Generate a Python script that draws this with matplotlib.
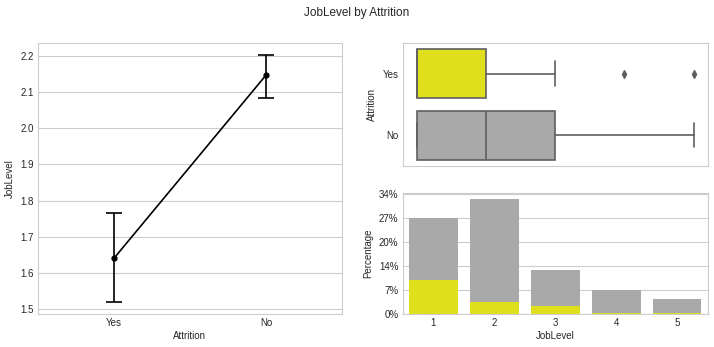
import numpy as np
import matplotlib.pyplot as plt
import seaborn as sns

sns.set_style('whitegrid')
plt.rcParams['font.family'] = ['Liberation Sans', 'DejaVu Sans']

# data (IBM HR attrition, JobLevel)
groups = ['Yes', 'No']
mean_level = [1.64, 2.147]
ci_low = [1.52, 2.083]
ci_high = [1.765, 2.202]

# box stats: whislo, q1, median, q3, whishi, outliers
box_yes = dict(whislo=1, q1=1, med=1, q3=2, whishi=3, fliers=[4, 5])
box_no = dict(whislo=1, q1=1, med=2, q3=3, whishi=5, fliers=[])

levels = ['1', '2', '3', '4', '5']
count_no = [400, 482, 186, 101, 64]
count_yes = [143, 52, 32, 5, 5]
total = 1470

yellow = '#dfdf1e'
gray = '#a9a9a9'
edge = '#5f5f5f'

fig = plt.figure(figsize=(7.14, 3.47), dpi=100)
fig.suptitle('JobLevel by Attrition', fontsize=8.5, y=0.98)

# left: mean with confidence interval
ax1 = fig.add_axes([0.053, 0.095, 0.426, 0.781])
x = np.arange(len(groups))
err = [np.array(mean_level) - np.array(ci_low), np.array(ci_high) - np.array(mean_level)]
ax1.errorbar(x, mean_level, yerr=err, color='black', lw=1.2, capsize=5.8, capthick=1.2,
             marker='o', markersize=3.5)
ax1.set_xlim(-0.5, 1.5)
ax1.set_ylim(1.486, 2.236)
ax1.set_xticks(x)
ax1.set_xticklabels(groups)
ax1.set_xlabel('Attrition', fontsize=7, labelpad=2)
ax1.set_ylabel('JobLevel', fontsize=7, labelpad=4)
ax1.tick_params(labelsize=7, pad=3, length=0)
ax1.grid(axis='x', visible=False)

# top right: boxplot
ax2 = fig.add_axes([0.564, 0.522, 0.427, 0.354])
stats = []
for b, lab in zip([box_yes, box_no], groups):
    s = dict(b)
    s['label'] = lab
    stats.append(s)
bp = ax2.bxp(stats, positions=[0, 1], vert=False, widths=0.8, patch_artist=True,
             boxprops=dict(edgecolor=edge, linewidth=1.2),
             medianprops=dict(color=edge, linewidth=1.2),
             whiskerprops=dict(color=edge, linewidth=1.2),
             capprops=dict(color=edge, linewidth=1.2),
             flierprops=dict(marker='d', markerfacecolor=edge, markeredgecolor=edge,
                             markersize=4))
for patch, c in zip(bp['boxes'], [yellow, gray]):
    patch.set_facecolor(c)
ax2.set_ylim(1.5, -0.5)
ax2.set_xlim(0.8, 5.2)
ax2.set_xticks([])
ax2.set_ylabel('Attrition', fontsize=7, labelpad=4)
ax2.tick_params(labelsize=7, pad=3, length=0)
ax2.grid(False)

# bottom right: overlaid counts shown as percentage
ax3 = fig.add_axes([0.564, 0.095, 0.427, 0.349])
xb = np.arange(len(levels))
ax3.bar(xb, count_no, width=0.8, color=gray, linewidth=0)
ax3.bar(xb, count_yes, width=0.8, color=yellow, linewidth=0)
ax3.set_xlim(-0.5, 4.5)
ax3.set_ylim(0, 506)
ticks = np.arange(0, 600, 100)
ax3.set_yticks(ticks)
ax3.set_yticklabels(['{:.0f}%'.format(t / total * 100) for t in ticks])
ax3.set_xticks(xb)
ax3.set_xticklabels(levels)
ax3.set_xlabel('JobLevel', fontsize=7, labelpad=2)
ax3.set_ylabel('Percentage', fontsize=7, labelpad=4)
ax3.tick_params(labelsize=7, pad=3, length=0)
ax3.grid(axis='x', visible=False)
ax3.set_axisbelow(True)

fig.savefig('out.png', dpi=100)
